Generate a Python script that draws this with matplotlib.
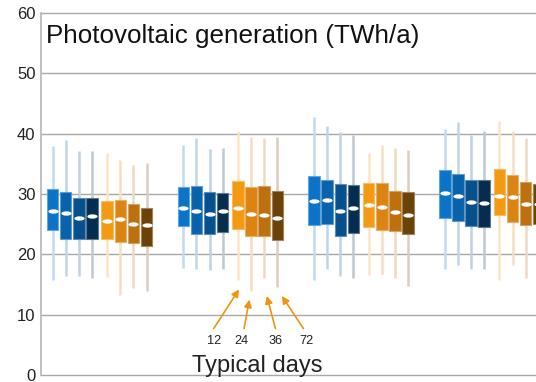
import matplotlib
matplotlib.use("Agg")
import matplotlib.pyplot as plt
from matplotlib.path import Path
from matplotlib.transforms import Affine2D, blended_transform_factory
from matplotlib.colors import to_rgb

plt.rcParams['font.family'] = ['Liberation Sans', 'DejaVu Sans']

# Number of typical days per scenario (4 blue + 4 orange variants per group)
typical_days = ["12", "24", "36", "72"]
yticks = [0, 10, 20, 30, 40, 50, 60]

# Box statistics per group (8 boxes each), TWh/a
q3 = [
    [30.9, 30.3, 29.4, 29.4, 28.8, 29.0, 28.3, 27.7],
    [31.2, 31.3, 30.3, 30.2, 32.1, 31.2, 31.3, 30.5],
    [33.0, 32.3, 31.6, 31.5, 31.9, 31.8, 30.5, 30.3],
    [34.0, 33.3, 32.3, 32.4, 34.1, 33.2, 32.0, 31.7],
]
q1 = [
    [24.1, 22.6, 22.6, 22.6, 22.6, 22.0, 21.8, 21.3],
    [24.7, 23.4, 23.4, 23.7, 24.2, 23.1, 23.0, 22.3],
    [24.8, 25.1, 23.1, 23.6, 24.5, 24.0, 23.8, 23.4],
    [26.0, 25.5, 24.7, 24.5, 26.5, 25.4, 24.8, 25.0],
]
med = [
    [27.2, 26.8, 26.0, 26.4, 25.6, 25.8, 25.0, 24.8],
    [27.6, 27.2, 26.7, 27.2, 27.6, 26.7, 26.5, 26.0],
    [28.8, 29.0, 27.2, 27.7, 28.1, 27.9, 27.0, 26.5],
    [30.1, 29.7, 28.6, 28.5, 29.7, 29.5, 28.3, 28.4],
]
whis_hi = [
    [37.9, 39.0, 37.2, 37.2, 36.8, 35.7, 34.8, 35.2],
    [38.2, 39.2, 37.5, 37.7, 40.4, 39.5, 39.2, 39.5],
    [42.7, 41.3, 40.3, 39.8, 36.8, 38.1, 37.6, 37.3],
    [40.7, 41.9, 39.8, 40.4, 42.1, 40.4, 39.3, 39.0],
]
whis_lo = [
    [15.7, 16.4, 16.4, 16.1, 16.2, 13.2, 14.4, 14.0],
    [17.7, 17.6, 17.4, 17.6, 15.7, 14.0, 16.0, 14.6],
    [15.7, 17.6, 16.4, 16.0, 16.5, 16.8, 16.0, 14.8],
    [17.6, 18.3, 17.6, 17.5, 15.7, 18.2, 16.1, 16.0],
]

colors = ["#0B74C8", "#0963AC", "#06508E", "#052D4F",
          "#F39A12", "#DB8412", "#BC700E", "#6B4207"]
offsets = [-0.359, -0.259, -0.159, -0.058, 0.058, 0.159, 0.259, 0.359]
box_w = 0.088


def blend(c, amount):
    r, g, b = to_rgb(c)
    return (r + (1 - r) * amount, g + (1 - g) * amount, b + (1 - b) * amount)


fig = plt.figure(figsize=(5.36, 3.82), dpi=100)
ax = fig.add_axes([41 / 536, 1 - 375 / 382, 495 / 536, 362 / 382])

ellipse = Path.unit_circle().transformed(Affine2D().scale(1, 0.42))

for g in range(len(q3)):
    for i in range(8):
        x = g + offsets[i]
        c = colors[i]
        stats = [dict(med=med[g][i], q1=q1[g][i], q3=q3[g][i],
                      whislo=whis_lo[g][i], whishi=whis_hi[g][i], fliers=[])]
        ax.bxp(stats, positions=[x], widths=box_w, patch_artist=True,
               showcaps=False, showfliers=False, manage_ticks=False,
               boxprops=dict(facecolor=c, edgecolor=blend(c, 0.35), linewidth=0.8, zorder=3),
               whiskerprops=dict(color=blend(c, 0.74), linewidth=1.8, zorder=2,
                                 solid_capstyle='butt'),
               medianprops=dict(linewidth=0))
        # whisker line running through the box
        ax.plot([x, x], [q1[g][i], q3[g][i]], color=blend(c, 0.74), lw=1.8, zorder=2)
        ax.plot([x], [med[g][i]], marker=ellipse, ms=7.4, color="white",
                markeredgewidth=0, zorder=4, linestyle='none')

ax.set_xlim(-0.448, 3.338)
ax.set_ylim(0, 60)
ax.set_yticks(yticks)
ax.set_xticks([])
ax.grid(axis='y', color="#A8A8A8", linewidth=1.0, zorder=0)
for ln in ax.get_ygridlines():
    ln.set_clip_on(False)
ax.set_axisbelow(True)
for s in ["top", "right", "bottom"]:
    ax.spines[s].set_visible(False)
ax.spines["left"].set_color("#BBBBBB")
ax.spines["left"].set_linewidth(1.3)
ax.tick_params(axis='y', length=0, pad=4, labelsize=12, labelcolor="#222222")

title_tr = blended_transform_factory(ax.transAxes, ax.transData)
ax.text(0.01, 55.1, "Photovoltaic generation (TWh/a)", fontsize=18.7,
        color="#111111", va='baseline', ha='left', transform=title_tr)

# Arrows from the day-count labels to the orange whiskers of the second group
orange = "#EE9410"
arrow_tails = [(0.873, 7.7), (1.105, 7.7), (1.345, 7.7), (1.559, 7.7)]
arrow_heads = [(1.067, 14.2), (1.146, 12.5), (1.279, 13.1), (1.394, 13.1)]
label_x = [0.876, 1.088, 1.348, 1.585]
for lab, lx, tail, head in zip(typical_days, label_x, arrow_tails, arrow_heads):
    ax.annotate("", xy=head, xytext=tail,
                arrowprops=dict(arrowstyle='-|>', color=orange, lw=1.2,
                                mutation_scale=11, shrinkA=0, shrinkB=0))
    ax.text(lx, 5.07, lab, fontsize=9.2, ha='center', va='baseline', color="#222222")

ax.text(1.205, 0.55, "Typical days", fontsize=17, ha='center', va='baseline',
        color="#222222")

fig.savefig("out.png", dpi=100)
